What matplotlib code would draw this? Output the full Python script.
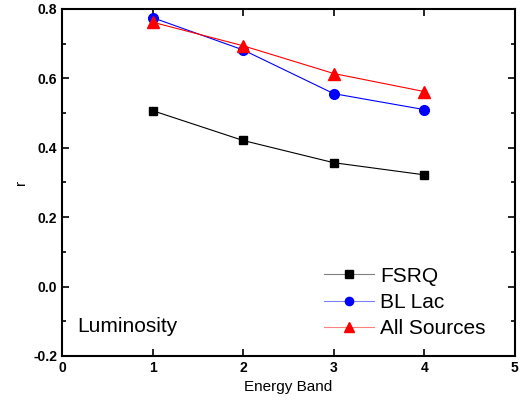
import matplotlib
matplotlib.use("Agg")
import matplotlib.pyplot as plt
from matplotlib.ticker import MultipleLocator

plt.rcParams['font.family'] = ['Liberation Sans', 'DejaVu Sans']

bands = [1, 2, 3, 4]
fsrq = [0.507, 0.421, 0.357, 0.322]
bllac = [0.775, 0.682, 0.556, 0.510]
allsrc = [0.762, 0.694, 0.614, 0.562]

fig = plt.figure(figsize=(5.23, 4.08), dpi=100)
ax = fig.add_axes([0.1185, 0.1275, 0.866, 0.8505])

ax.plot(bands, fsrq, color='black', lw=0.8, marker='s', ms=6, label='FSRQ')
ax.plot(bands, bllac, color='blue', lw=0.8, marker='o', ms=7, label='BL Lac')
ax.plot(bands, allsrc, color='red', lw=0.8, marker='^', ms=8, label='All Sources')

ax.set_xlim(0, 5)
ax.set_ylim(-0.2, 0.8)
ax.xaxis.set_major_locator(MultipleLocator(1))
ax.yaxis.set_major_locator(MultipleLocator(0.2))
ax.yaxis.set_minor_locator(MultipleLocator(0.1))
ax.yaxis.set_major_formatter(plt.FuncFormatter(lambda v, p: f"{v:.1f}"))
ax.tick_params(which='both', direction='in', top=True, right=True, width=1.2)
ax.tick_params(which='major', length=5, labelsize=10)
ax.tick_params(which='minor', length=3)
for lab in ax.get_xticklabels() + ax.get_yticklabels():
    lab.set_fontweight('bold')
for s in ax.spines.values():
    s.set_linewidth(1.5)

ax.set_xlabel('Energy Band', fontsize=11)
ax.set_ylabel('r', fontsize=11)
ax.text(0.17, -0.13, 'Luminosity', fontsize=15)

leg = ax.legend(loc='lower right', frameon=False, fontsize=15, handlelength=2.4,
                handletextpad=0.3, labelspacing=0.35, borderaxespad=0.9,
                markerscale=0.85, bbox_to_anchor=(0.995, -0.027))
light = {'black': '#808080', 'blue': '#8080ff', 'red': '#ff8080'}
for h, c in zip(leg.get_lines(), ['black', 'blue', 'red']):
    h.set_color(light[c])
    h.set_markerfacecolor(c)
    h.set_markeredgecolor(c)

fig.savefig('out.png', dpi=100)
